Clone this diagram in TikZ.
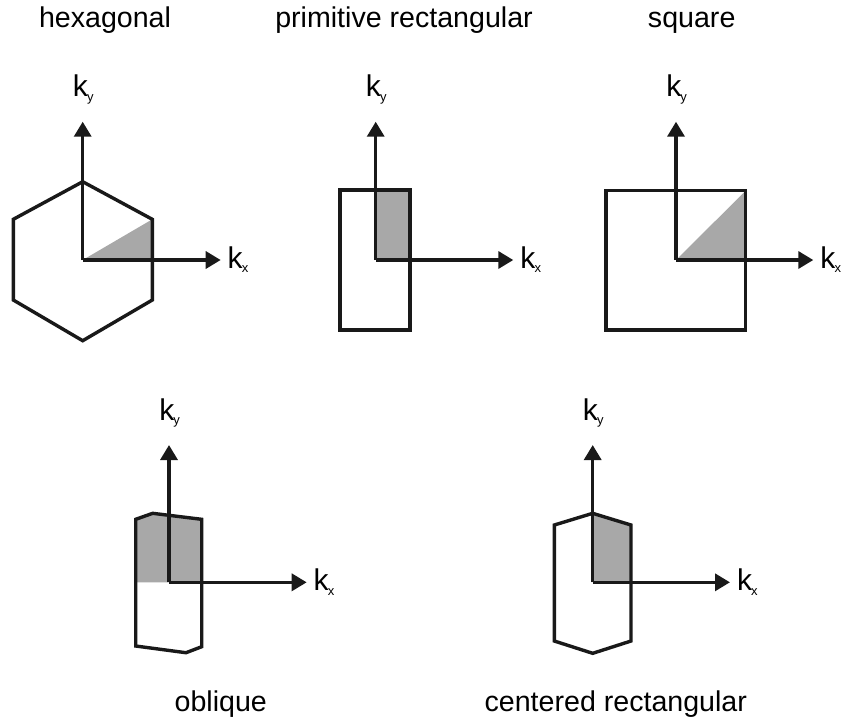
\documentclass[tikz,border=0pt]{standalone}
\usepackage{fontspec}
\setmainfont{Liberation Sans}
\usetikzlibrary{arrows.meta}
\definecolor{cellgray}{RGB}{168,168,168}
\newcommand{\wavevec}[1]{k\kern-0.4pt\raisebox{-2.2pt}{\fontsize{6.5}{7}\selectfont #1}}
\begin{document}
\begin{tikzpicture}[
    x=0.5pt, y=-0.5pt,
    axis/.style={-{Triangle[length=7.5pt,width=8.5pt]}, line width=1.7pt, draw=black!90},
    zone/.style={draw=black!90, line width=1.7pt, line join=miter},
    irr/.style={fill=cellgray},
    title/.style={font=\fontsize{14.3}{17}\selectfont, anchor=base, inner sep=0pt},
    kxlabel/.style={font=\fontsize{15}{17}\selectfont, inner sep=0pt, anchor=base west},
    kylabel/.style={font=\fontsize{15}{17}\selectfont, inner sep=0pt, anchor=base}
]
\useasboundingbox (0,0) rectangle (845,725);
\coordinate (hexo) at (82.7,260);
\coordinate (hexx) at (220.7,260);
\coordinate (hexy) at (82.7,121.7);
\fill[irr] (hexo) -- (152.3,260) -- (152.3,219.3) -- cycle;
\draw[zone] (82.7,181.7) -- (152.3,219.3) -- (152.3,300) -- (82.7,340.7) -- (13.3,300) -- (13.3,219.3) -- cycle;
\draw[axis] (hexo) -- (hexx); \draw[axis] (hexo) -- (hexy);
\node[kxlabel] (hexkx) at ([xshift=3.3pt,yshift=-4.2pt]hexx) {\wavevec{x}};
\node[kylabel] (hexky) at ([xshift=0.3pt,yshift=12.5pt]hexy) {\wavevec{y}};
\node[title] (hextitle) at (105,27) {hexagonal};
\coordinate (prso) at (375.7,260);
\coordinate (prsx) at (513.3,260);
\coordinate (prsy) at (375.7,121.7);
\fill[irr] (prso) rectangle (410,190);
\draw[zone] (340,190) rectangle (410,330);
\draw[axis] (prso) -- (prsx); \draw[axis] (prso) -- (prsy);
\node[kxlabel] (prskx) at ([xshift=3.3pt,yshift=-4.2pt]prsx) {\wavevec{x}};
\node[kylabel] (prsky) at ([xshift=0.3pt,yshift=12.5pt]prsy) {\wavevec{y}};
\node[title] (prstitle) at (404,27) {primitive rectangular};
\coordinate (sqo) at (676,260);
\coordinate (sqx) at (813.3,260);
\coordinate (sqy) at (676,121.7);
\fill[irr] (sqo) -- (745.7,260) -- (745.7,190.7) -- cycle;
\draw[zone] (606,190.7) rectangle (745.7,330);
\draw[axis] (sqo) -- (sqx); \draw[axis] (sqo) -- (sqy);
\node[kxlabel] (sqkx) at ([xshift=3.3pt,yshift=-4.2pt]sqx) {\wavevec{x}};
\node[kylabel] (sqky) at ([xshift=0.3pt,yshift=12.5pt]sqy) {\wavevec{y}};
\node[title] (sqtitle) at (691.7,27) {square};
\coordinate (obo) at (169,582.3);
\coordinate (obx) at (306.7,582.3);
\coordinate (oby) at (169,445);
\fill[irr] (135.7,582.3) -- (135.7,519.3) -- (152.7,513.3) -- (201.7,519.3) -- (201.7,582.3) -- cycle;
\draw[zone] (135.7,519.3) -- (152.7,513.3) -- (201.7,519.3) -- (201.7,646.7) -- (186,652.7) -- (135.7,646) -- cycle;
\draw[axis] (obo) -- (obx); \draw[axis] (obo) -- (oby);
\node[kxlabel] (obkx) at ([xshift=3.3pt,yshift=-4.2pt]obx) {\wavevec{x}};
\node[kylabel] (obky) at ([xshift=0.3pt,yshift=12.5pt]oby) {\wavevec{y}};
\node[title] (obtitle) at (220.8,711) {oblique};
\coordinate (cro) at (592.7,582.3);
\coordinate (crx) at (730,582.3);
\coordinate (cry) at (592.7,445);
\fill[irr] (cro) -- (592.7,513.3) -- (631,525) -- (631,582.3) -- cycle;
\draw[zone] (592.7,513.3) -- (631,525) -- (631,641) -- (592.7,653.3) -- (554.3,641) -- (554.3,525) -- cycle;
\draw[axis] (cro) -- (crx); \draw[axis] (cro) -- (cry);
\node[kxlabel] (crkx) at ([xshift=3.3pt,yshift=-4.2pt]crx) {\wavevec{x}};
\node[kylabel] (crky) at ([xshift=0.3pt,yshift=12.5pt]cry) {\wavevec{y}};
\node[title] (crtitle) at (615.8,711) {centered rectangular};
\end{tikzpicture}
\end{document}
